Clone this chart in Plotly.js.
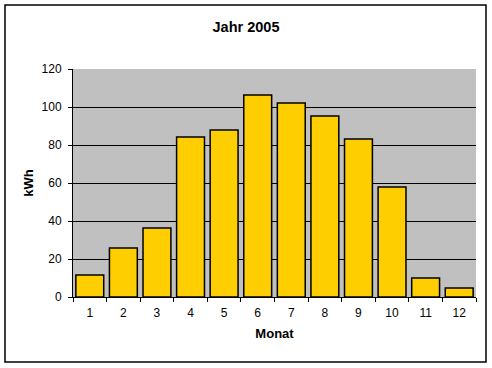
<!DOCTYPE html>
<html>
<head>
<meta charset="utf-8">
<script src="https://cdn.plot.ly/plotly-3.0.1.min.js"></script>
<style>
html,body{margin:0;padding:0;background:#fff;}
#chart{width:492px;height:368px;}
</style>
</head>
<body>
<div id="chart"></div>
<script>
const months = ["1","2","3","4","5","6","7","8","9","10","11","12"];
const kwh = [11.6, 25.8, 36.3, 84.2, 87.9, 106.3, 102.1, 95.3, 83.2, 57.9, 10, 4.7];
const yTicks = [0, 20, 40, 60, 80, 100, 120];

const trace = {
  type: "bar",
  x: months,
  y: kwh,
  marker: {color: "#FFCE00", line: {color: "#000000", width: 1.5}},
  hoverinfo: "none"
};

const font = {family: "Liberation Sans, Arial, sans-serif", color: "#000"};

const layout = {
  width: 492, height: 368,
  margin: {l: 73, r: 16, t: 69, b: 71},
  paper_bgcolor: "#ffffff",
  plot_bgcolor: "#c0c0c0",
  showlegend: false,
  bargap: 0.17,
  font: Object.assign({size: 12}, font),
  title: {
    text: "<b>Jahr 2005</b>",
    font: Object.assign({size: 14.5}, font),
    x: 0.5, xanchor: "center", y: 1 - 27/368, yanchor: "middle"
  },
  xaxis: {
    type: "category",
    showline: true, linecolor: "#000", linewidth: 1,
    ticks: "outside", ticklen: 4, tickcolor: "#000", tickson: "boundaries",
    ticklabelstandoff: 5,
    showgrid: false,
    tickfont: Object.assign({size: 12}, font),
    title: {text: "<b>Monat</b>", font: Object.assign({size: 13}, font), standoff: 9}
  },
  yaxis: {
    range: [0, 120],
    tickvals: yTicks,
    showline: true, linecolor: "#000", linewidth: 1,
    ticks: "outside", ticklen: 4, tickcolor: "#000",
    ticklabelstandoff: 4,
    showgrid: true, gridcolor: "#000", gridwidth: 1,
    zeroline: false,
    tickfont: Object.assign({size: 12}, font),
    title: {text: "<b>kWh</b>", font: Object.assign({size: 13}, font), standoff: 5}
  },
  shapes: [{
    type: "rect", xref: "paper", yref: "paper",
    x0: (5 - 73) / 403, x1: (486 - 73) / 403,
    y0: (297 - 362) / 228, y1: (297 - 5) / 228,
    line: {color: "#000", width: 1.5}, fillcolor: "rgba(0,0,0,0)", layer: "below"
  }]
};

Plotly.newPlot("chart", [trace], layout, {staticPlot: true, displayModeBar: false});
</script>
</body>
</html>
